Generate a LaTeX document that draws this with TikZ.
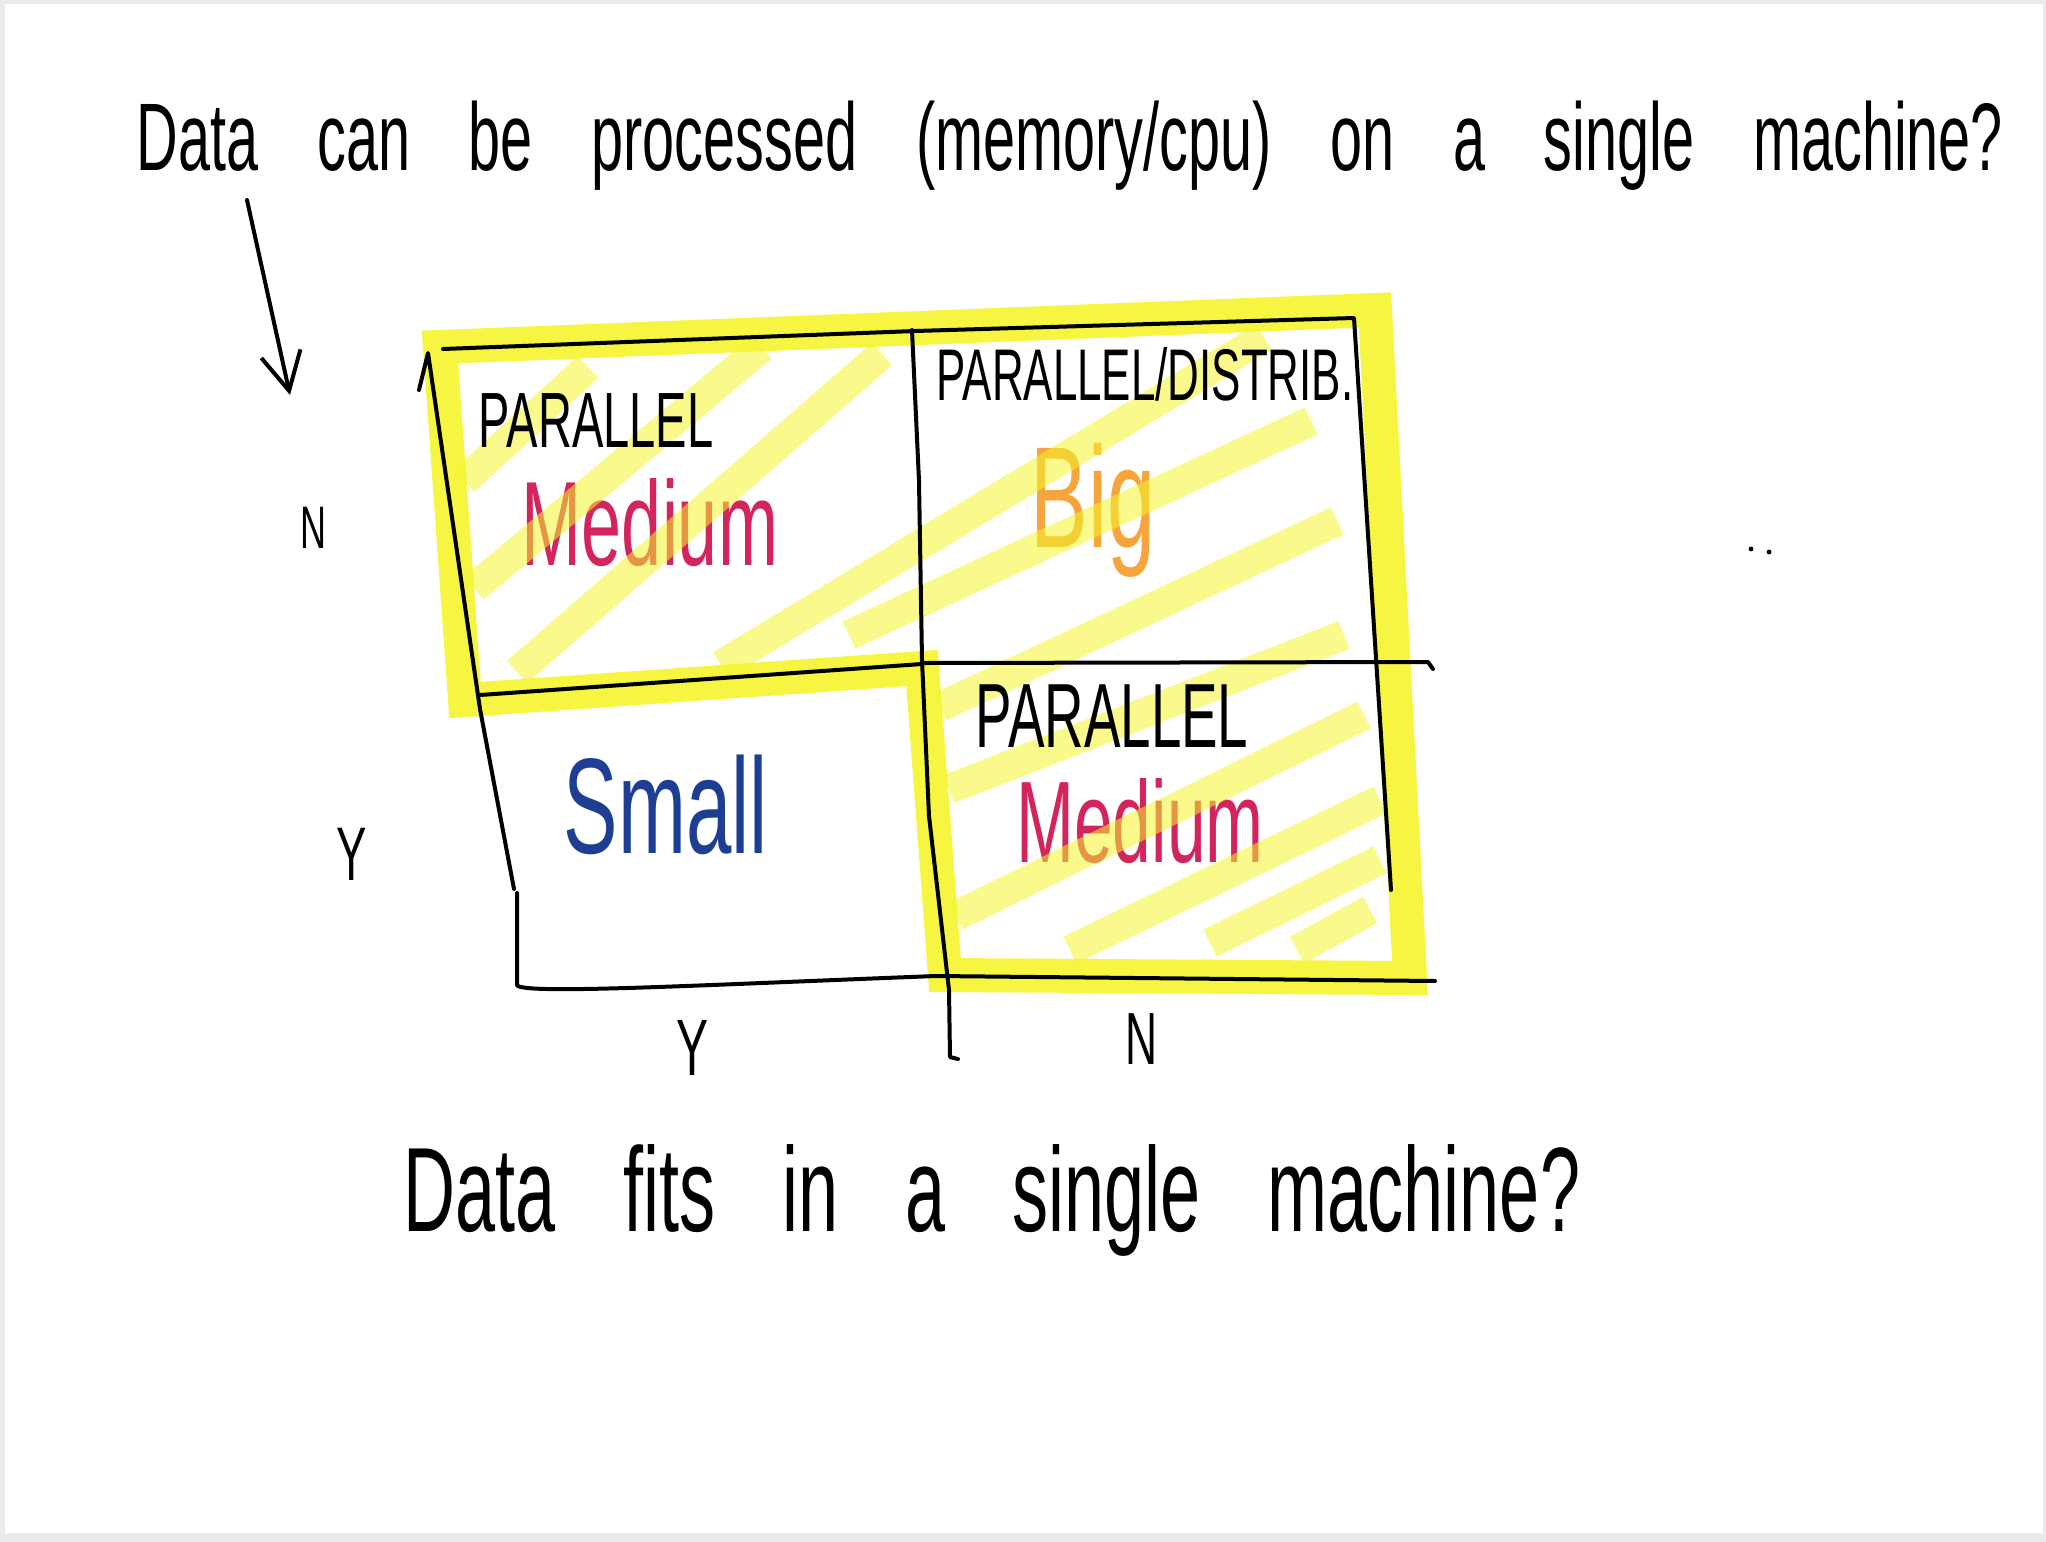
\documentclass[tikz,border=0pt]{standalone}
\usepackage{fontspec}
\setmainfont{Liberation Sans}
\newfontfamily\hand[FakeStretch=0.6]{Liberation Sans}
\newcommand{\handsz}[1]{\hand\fontsize{#1}{#1}\selectfont}
\usetikzlibrary{arrows.meta}
\definecolor{hiyellow}{HTML}{F5F52E}
\definecolor{medred}{HTML}{D3245C}
\definecolor{bigorange}{HTML}{F7A43C}
\definecolor{smallblue}{HTML}{1E3E94}
\definecolor{edgegray}{HTML}{EBEBEB}
\begin{document}
\begin{tikzpicture}[x=0.25pt,y=-0.25pt,
    ink/.style={line width=1pt, line cap=round, line join=round},
    marker/.style={hiyellow, line width=8.5pt, opacity=0.9, line join=miter},
    stripe/.style={hiyellow, line width=7.5pt, opacity=0.55},
    txt/.style={inner sep=0pt, anchor=base}]
  \fill[edgegray] (0,0) rectangle (2046,1542);
  \fill[white] (5,4) rectangle (2043,1533);
  % coloured words first, the highlighter goes over them
  \node[txt, medred, font=\handsz{30}] (med1) at (650,565) {Medium};
  \node[txt, medred, font=\handsz{29}] (med2) at (1140,862) {Medium};
  \node[txt, bigorange, font=\handsz{36}] (big) at (1093,547) {Big};
  \node[txt, smallblue, font=\handsz{34}] (small) at (666,853) {Small};
  % hatching
  \draw[stripe] (464,481) -- (588,367);
  \draw[stripe] (474,588) -- (762,347);
  \draw[stripe] (517,672) -- (882,354);
  \draw[stripe] (721,665) -- (1264,337);
  \draw[stripe] (849,635) -- (1311,421);
  \draw[stripe] (940,707) -- (1337,521);
  \draw[stripe] (949,789) -- (1344,635);
  \draw[stripe] (956,916) -- (1364,715);
  \draw[stripe] (1070,950) -- (1380,800);
  \draw[stripe] (1210,943) -- (1380,860);
  \draw[stripe] (1297,950) -- (1370,910);
  % highlighter frame
  \draw[marker] (440,347) -- (1375,310) -- (1410,978) -- (945,975)
    -- (922,668) -- (465,700) -- cycle;
  % grid
  \draw[ink] (419,390) -- (428,353) -- (480,709) -- (514,889);
  \draw[ink] (517,893) -- (517,985) .. controls (520,995) and (700,985) .. (936,976) -- (1435,981);
  \draw[ink] (443,349) -- (915,331) -- (1354,318) -- (1391,890);
  \draw[ink] (912,330) -- (919,481) -- (922,660) -- (929,816) -- (949,990) -- (950,1057) -- (958,1059);
  \draw[ink] (480,695) -- (922,664);
  \draw[ink] (925,663) -- (1428,662) -- (1433,669);
  % words
  \node[txt, font={\handsz{24}\spaceskip=14.7pt}] (q) at (1070,170) {Data can be processed (memory/cpu) on a single machine?};
  \node[txt, font={\handsz{30}\spaceskip=16.8pt}] (fits) at (992,1231) {Data fits in a single machine?};
  \node[txt, font=\handsz{19.6}] (par1) at (596,447) {PARALLEL};
  \node[txt, font=\handsz{18.3}] (pardist) at (1145,400) {PARALLEL/DISTRIB.};
  \node[txt, font=\handsz{22.8}] (par2) at (1112,747) {PARALLEL};
  \node[txt, font=\handsz{15}] (rowN) at (313,548) {N};
  \node[txt, font=\handsz{19}] (rowY) at (352,880) {Y};
  \node[txt, font=\handsz{20}] (colY) at (692,1075) {Y};
  \node[txt, font=\handsz{18.5}] (colN) at (1142,1064) {N};
  \coordinate (tail) at (247,200);
  \coordinate (tip) at (290,395);
  \draw[ink, -{Straight Barb[length=9.5pt,width=10pt]}] (tail) -- (tip);
  \fill (1751,549) circle (0.6pt) (1769,552) circle (0.6pt);
\end{tikzpicture}
\end{document}
